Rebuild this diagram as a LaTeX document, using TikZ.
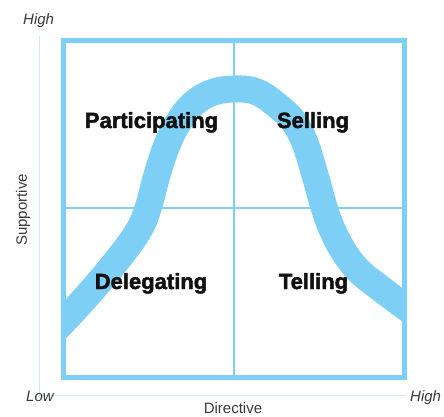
\documentclass[tikz,border=0pt]{standalone}
\usepackage{fontspec}
\setmainfont{Liberation Sans}
\newfontfamily\heavyfont{Liberation Sans Bold}[FakeBold=2]
\definecolor{sky}{HTML}{7DCFF5}
\definecolor{pale}{HTML}{CFE9F5}
\definecolor{axistext}{HTML}{3A3A3A}
\definecolor{labelink}{HTML}{111111}
\tikzset{
  frame/.style={draw=sky, line width=5pt},
  divider/.style={draw=sky, line width=1.6pt},
  band/.style={draw=sky, line width=27pt, line join=round},
  axisline/.style={draw=pale, line width=1pt},
  quadlabel/.style={font=\heavyfont\fontsize{22}{22}\selectfont, text=labelink, anchor=base, inner sep=0pt},
  axislabel/.style={font=\fontsize{15}{15}\selectfont, text=axistext, inner sep=0pt},
}
\begin{document}
\begin{tikzpicture}[x=1pt,y=-1pt]
\useasboundingbox (0,0) rectangle (444,417);
\fill[white] (0,0) rectangle (444,417);
% axes
\coordinate (axtop) at (39.5,36);
\coordinate (axorigin) at (39.5,395);
\coordinate (axright) at (406,395);
\draw[axisline] (axtop) -- (axorigin) -- (axright);
% dividers
\coordinate (midtop) at (234,40.5);
\coordinate (midbot) at (234,377);
\coordinate (midleft) at (63.5,208);
\coordinate (midright) at (404.5,208);
\draw[divider] (midtop) -- (midbot);
\draw[divider] (midleft) -- (midright);
% band
\begin{scope}
\clip (63.5,40.5) rectangle (404.5,377);
\draw[band] plot[smooth, tension=0.65] coordinates {(38,346) (63,322) (94,288) (122,254) (140,228) (149,205) (157,175) (167,145) (178,123) (192,105) (211,93) (234,89) (257,92) (279,107) (294,122) (305,143) (315,175) (324,207) (332,229) (344,252) (359,271) (380,288) (404,306) (428,323)};
\end{scope}
% frame
\draw[frame] (63.5,40.5) rectangle (404.5,377);
% quadrant labels
\node[quadlabel] (participating) at (151.5,128) {Participating};
\node[quadlabel] (selling) at (313,128) {Selling};
\node[quadlabel] (delegating) at (151,289) {Delegating};
\node[quadlabel] (telling) at (313.5,289) {Telling};
% axis labels
\node[axislabel, anchor=base west] (hightop) at (23,25) {\itshape High};
\node[axislabel, anchor=base west] (low) at (26,401) {\itshape Low};
\node[axislabel, anchor=base west] (highright) at (410,401) {\itshape High};
\node[axislabel, anchor=base] (directive) at (233,413) {Directive};
\node[axislabel, anchor=base, rotate=90] (supportive) at (27,210) {Supportive};
\end{tikzpicture}
\end{document}
